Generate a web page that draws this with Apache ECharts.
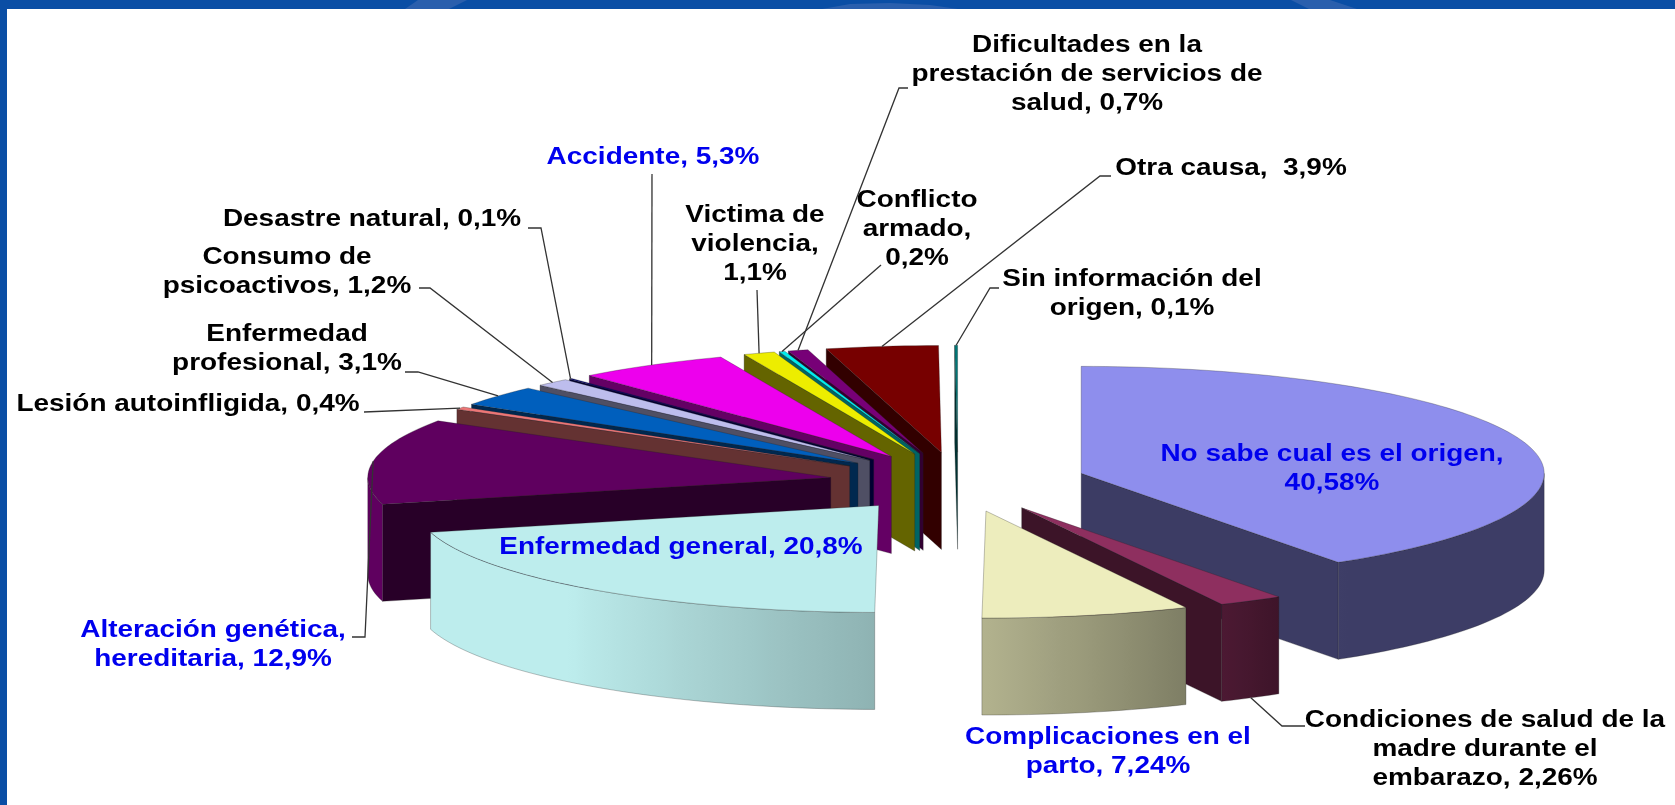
<!DOCTYPE html>
<html><head><meta charset="utf-8">
<style>html,body{margin:0;padding:0;background:#fff}#c{width:1675px;height:805px}</style>
<script src="https://cdn.jsdelivr.net/npm/echarts@6/dist/echarts.min.js"></script>
</head><body><div id="c"></div>
<script>
const categories = ['No sabe cual es el origen','Condiciones de salud de la madre durante el embarazo','Complicaciones en el parto','Enfermedad general','Alteración genética, hereditaria','Lesión autoinfligida','Enfermedad profesional','Consumo de psicoactivos','Desastre natural','Accidente','Victima de violencia','Conflicto armado','Dificultades en la prestación de servicios de salud','Otra causa','Sin información del origen'];
const values = [40.58,2.26,7.24,20.8,12.9,0.4,3.1,1.2,0.1,5.3,1.1,0.2,0.7,3.9,0.1];
const labelTexts = ['No sabe cual es el origen,\n40,58%','Condiciones de salud de la\nmadre durante el\nembarazo, 2,26%','Complicaciones en el\nparto, 7,24%','Enfermedad general, 20,8%','Alteración genética,\nhereditaria, 12,9%','Lesión autoinfligida, 0,4%','Enfermedad\nprofesional, 3,1%','Consumo de\npsicoactivos, 1,2%','Desastre natural, 0,1%','Accidente, 5,3%','Victima de\nviolencia,\n1,1%','Conflicto\narmado,\n0,2%','Dificultades en la\nprestación de servicios de\nsalud, 0,7%','Otra causa,  3,9%','Sin información del\norigen, 0,1%'];
const sliceColors = ['#8E8EED','#8E2F5F','#EDEDBD','#BDEDED','#5F005F','#ED7777','#005FBD','#BDBDED','#000077','#ED00ED','#EDED00','#00EDED','#770077','#770000','#007777'];
const labelColors = ['#0000ee','#000','#0000ee','#0000ee','#0000ee','#000','#000','#000','#000','#0000ee','#000','#000','#000','#000','#000'];
// label layout: centre x, centre y of the text block
const labelCentreX = [1332,1485,1108,681,213,188,287,287,372,653,755,917,1087,1231,1132];
const labelCentreY = [469,750,752,548,645,405,349,272,220,158,245,230,75,169,294];
// leader start (label side); [start x, start y, elbow x, elbow y], null = no leader
const leaderStart = [null,[1305,726,1282,726],null,null,[352,637,365,637],[364,412,364,412],[405,372,418,372],[419,288,430,288],[528,228,541,228],[652,174,652,174],[757,290,757,290],[881,265,881,265],[908,88,899,88],[1111,176,1100,176],[999,288,990,288]];
const leaderAtBase = [0,1,0,0,0,0,0,0,0,0,0,0,0,0,0];

const PIE = {cx:958, cy:482, rx:463, ry:107, depth:97, explode:0.278, wallShade:0.42};
const total = values.reduce((a,b)=>a+b,0);
const startAngles = [], endAngles = [];
values.reduce((acc,v,i)=>{startAngles[i]=acc/total*360; endAngles[i]=(acc+v)/total*360; return acc+v;},0);
const rad = d=>d*Math.PI/180;
const project = (c,a)=>[c[0]+PIE.rx*Math.sin(rad(a)), c[1]-PIE.ry*Math.cos(rad(a))];
const centre = i=>{const b=(startAngles[i]+endAngles[i])/2;return [PIE.cx+PIE.explode*PIE.rx*Math.sin(rad(b)),PIE.cy-PIE.explode*PIE.ry*Math.cos(rad(b))];};
const paintOrder = values.map((_,i)=>i).sort((a,b)=>centre(a)[1]-centre(b)[1]);
function shade(hex,k){const n=parseInt(hex.slice(1),16);const f=c=>Math.round(c*k);return `rgb(${f(n>>16&255)},${f(n>>8&255)},${f(n&255)})`;}
const shadeKnots=[[90,.43],[146,.43],[154,.53],[180,.75],[222,1],[270,1]];
function rimShade(a){for(let i=1;i<shadeKnots.length;i++){if(a<=shadeKnots[i][0]){const[p,q]=shadeKnots[i-1],[r,s]=shadeKnots[i];return q+(s-q)*(a-p)/(r-p);}}return 1;}
const down = p=>[p[0],p[1]+PIE.depth];
const EDGE='rgba(30,30,30,0.55)';

function renderSlice(params){
  const i=paintOrder[params.dataIndex], c=centre(i), s=startAngles[i], e=endAngles[i], col=sliceColors[i];
  const children=[];
  const wall=(a)=>{const p=project(c,a);children.push({type:'polygon',shape:{points:[c,p,down(p),down(c)]},style:{fill:shade(col,PIE.wallShade),stroke:EDGE,lineWidth:.5}});};
  if(s>181&&s<360) wall(s);
  if(e>0&&e<179) wall(e);
  const rs=Math.max(s,90), re=Math.min(e,270);
  if(re>rs){
    const top=[],bot=[],n=Math.max(2,Math.ceil((re-rs)/1.5));
    for(let k=0;k<=n;k++){const a=rs+(re-rs)*k/n;const p=project(c,a);top.push(p);bot.unshift(down(p));}
    const xs=top.map(p=>p[0]),xmin=Math.min(...xs),xmax=Math.max(...xs),w=Math.max(xmax-xmin,1);
    const stops=[];for(let k=0;k<=n;k++){stops.push({offset:(top[k][0]-xmin)/w,color:shade(col,rimShade(rs+(re-rs)*k/n))});}
    stops.sort((a,b)=>a.offset-b.offset);
    children.push({type:'polygon',shape:{points:top.concat(bot)},style:{fill:new echarts.graphic.LinearGradient(0,0,1,0,stops),stroke:EDGE,lineWidth:.5}});
  }
  const pts=[c],n=Math.max(2,Math.ceil((e-s)/1.5));
  for(let k=0;k<=n;k++)pts.push(project(c,s+(e-s)*k/n));
  children.push({type:'polygon',shape:{points:pts},style:{fill:col,stroke:EDGE,lineWidth:.5}});
  return {type:'group',children};
}
function renderLabel(params){
  const i=params.dataIndex, children=[];
  if(leaderStart[i]){
    const L=leaderStart[i],b=(startAngles[i]+endAngles[i])/2;
    let p=project(centre(i),b); if(leaderAtBase[i])p=down(p);
    children.push({type:'polyline',shape:{points:[[L[0],L[1]],[L[2],L[3]],p]},style:{fill:'none',stroke:'#333',lineWidth:1.3}});
  }
  children.push({type:'text',x:labelCentreX[i],y:labelCentreY[i],scaleX:1.215,style:{x:0,y:0,text:labelTexts[i],align:'center',verticalAlign:'middle',font:'bold 23px "Liberation Sans"',lineHeight:29,fill:labelColors[i]}});
  return {type:'group',children};
}
const FRAME='#0A4EA5', SHEEN='#2A5FAD';
const chart=echarts.init(document.getElementById('c'),null,{renderer:'canvas'});
chart.setOption({
  animation:false,
  backgroundColor:'#fff',
  graphic:[
    {type:'rect',shape:{x:0,y:0,width:1675,height:9},style:{fill:FRAME},z:50},
    {type:'rect',shape:{x:0,y:0,width:7,height:805},style:{fill:FRAME},z:50},
    {type:'polygon',shape:{points:[[418,0],[467,0],[449,9],[405,9]]},style:{fill:SHEEN},z:51},
    {type:'polygon',shape:{points:[[822,9],[850,4],[890,3],[930,5],[958,9]]},style:{fill:SHEEN},z:51},
    {type:'polygon',shape:{points:[[1291,0],[1330,0],[1357,9],[1309,9]]},style:{fill:SHEEN},z:51}
  ],
  series:[
    {type:'custom',coordinateSystem:'none',silent:true,clip:false,z:2,renderItem:renderSlice,data:paintOrder.map(i=>[i,values[i]])},
    {type:'custom',coordinateSystem:'none',silent:true,clip:false,z:3,renderItem:renderLabel,data:values.map((v,i)=>[i,v])}
  ]
});
</script></body></html>
